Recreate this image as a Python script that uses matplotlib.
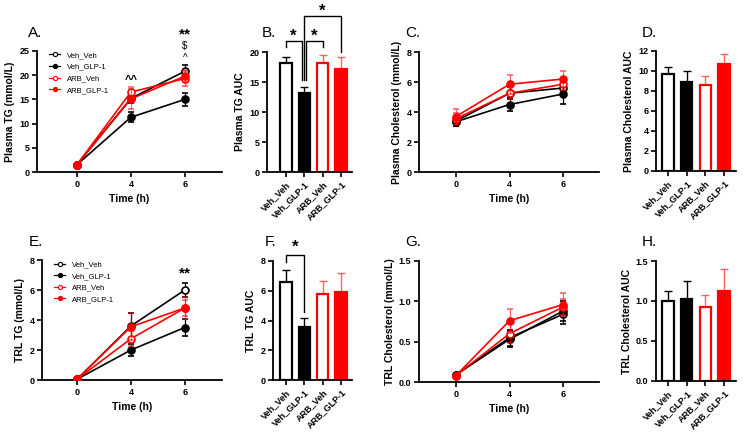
import matplotlib
matplotlib.use("Agg")
import matplotlib.pyplot as plt
from matplotlib.lines import Line2D
import numpy as np

plt.rcParams['font.family'] = ['Liberation Sans', 'DejaVu Sans']

groups = ['Veh_Veh', 'Veh_GLP-1', 'ARB_Veh', 'ARB_GLP-1']
times = ['0', '4', '6']

# time course data (mean, sem)
tg_mean = [[1.5, 15.2, 20.8], [1.5, 11.3, 15.0], [1.5, 16.5, 19.3], [1.5, 15.1, 19.8]]
tg_err = [[0.2, 1.0, 1.3], [0.2, 1.0, 1.3], [0.2, 1.0, 1.5], [0.2, 2.0, 1.3]]
chol_mean = [[3.4, 5.25, 5.6], [3.35, 4.5, 5.2], [3.55, 5.25, 5.85], [3.7, 5.85, 6.2]]
chol_err = [[0.3, 0.4, 0.4], [0.3, 0.45, 0.65], [0.4, 0.4, 0.4], [0.5, 0.65, 0.55]]
trltg_mean = [[0.05, 3.6, 6.0], [0.05, 2.0, 3.5], [0.05, 2.75, 4.8], [0.05, 3.55, 4.8]]
trltg_err = [[0.02, 0.85, 0.45], [0.02, 0.4, 0.55], [0.02, 0.5, 0.55], [0.02, 0.9, 0.75]]
trlchol_mean = [[0.09, 0.55, 0.84], [0.09, 0.53, 0.88], [0.08, 0.6, 0.93], [0.08, 0.76, 0.96]]
trlchol_err = [[0.01, 0.1, 0.12], [0.01, 0.1, 0.12], [0.01, 0.12, 0.1], [0.01, 0.15, 0.14]]

# AUC data
tg_auc = [18.1, 13.1, 18.2, 17.2]
tg_auc_err = [1.1, 1.1, 1.3, 1.9]
chol_auc = [9.7, 8.9, 8.6, 10.7]
chol_auc_err = [0.75, 1.05, 0.9, 1.05]
trltg_auc = [6.6, 3.55, 5.8, 5.9]
trltg_auc_err = [0.8, 0.65, 0.85, 1.3]
trlchol_auc = [1.0, 1.03, 0.92, 1.13]
trlchol_auc_err = [0.13, 0.22, 0.15, 0.27]

line_col = ['black', 'black', 'red', 'red']
face_col = ['white', 'black', 'white', 'red']
err_col = ['black', 'black', (1, 0, 0, 0.6), (1, 0, 0, 0.6)]

W, H = 748, 433
fig = plt.figure(figsize=(7.48, 4.33), dpi=100)


def add_ax(l, r, t, b):
    return fig.add_axes([l / W, (H - b) / H, (r - l) / W, (b - t) / H])


def style(ax):
    for s in ['top', 'right']:
        ax.spines[s].set_visible(False)
    for s in ['left', 'bottom']:
        ax.spines[s].set_linewidth(1.3)
    ax.tick_params(width=1.2, length=3.5, labelsize=6.5, pad=2)
    for lab in ax.get_xticklabels() + ax.get_yticklabels():
        lab.set_fontweight('bold')


def line_panel(ax, means, errs, ylim, yticks, ylabel, xlim, legend=False):
    x = np.arange(len(times))
    for i, g in enumerate(groups):
        ax.errorbar(x, means[i], yerr=errs[i], color=line_col[i], ecolor=err_col[i],
                    marker='o', markersize=5, mfc=face_col[i], mec=line_col[i],
                    mew=1.2, lw=1.2, capsize=2.5, elinewidth=0.9, capthick=0.9,
                    zorder=3 + i)
    ax.set_xticks(x)
    ax.set_xticklabels(times)
    ax.set_xlim(*xlim)
    ax.set_ylim(*ylim)
    ax.set_yticks(yticks)
    ax.set_xlabel('Time (h)', fontsize=7.5, fontweight='bold', labelpad=4)
    ax.set_ylabel(ylabel, fontsize=7.5, fontweight='bold', labelpad=3)
    style(ax)
    if legend:
        handles = [Line2D([], [], color=line_col[i], marker='o', markersize=3,
                          mfc=face_col[i], mec=line_col[i], mew=0.8, lw=0.9)
                   for i in range(len(groups))]
        ax.legend(handles, groups, loc='upper left', bbox_to_anchor=(0.03, 1.05),
                  frameon=False, fontsize=5.5, handlelength=1.4, handletextpad=0.9,
                  labelspacing=0.55)


def bar_panel(ax, vals, errs, ylim, yticks, ylabel, xlim, yfmt=None):
    x = np.arange(len(groups))
    for i in range(len(groups)):
        ax.bar(x[i], vals[i], width=0.62, color=face_col[i], edgecolor=line_col[i],
               linewidth=1.6, zorder=2)
        ax.errorbar(x[i], vals[i], yerr=[[0], [errs[i]]], color=err_col[i],
                    capsize=3, elinewidth=1.0, capthick=1.0, zorder=1)
    ax.set_xticks(x)
    ax.set_xticklabels(groups, rotation=45, ha='right', rotation_mode='anchor')
    ax.set_xlim(*xlim)
    ax.set_ylim(*ylim)
    ax.set_yticks(yticks)
    if yfmt:
        ax.set_yticklabels([yfmt % v for v in yticks])
    ax.set_ylabel(ylabel, fontsize=7.5, fontweight='bold', labelpad=3)
    style(ax)


def letter(s, px, py):
    fig.text(px / W, 1 - py / H, s, fontsize=11, ha='left', va='center')


def bracket(ax, x1, x2, y, y1, y2):
    ax.plot([x1, x1, x2, x2], [y1, y, y, y2], color='black', lw=1.0, clip_on=False)


def star(ax, x, y, s='*', size=12):
    ax.text(x, y, s, fontsize=size, ha='center', va='center', fontweight='bold',
            clip_on=False)


# A
axA = add_ax(37, 222, 51, 172)
line_panel(axA, tg_mean, tg_err, (0, 25), range(0, 26, 5), 'Plasma TG (mmol/L)',
           (-0.74, 2.69), legend=True)
axA.text(1, 19.0, '^^', fontsize=8, ha='center', va='center', fontweight='bold')
star(axA, 2, 28.5, '**', 11)
axA.text(2, 26.0, '$', fontsize=7, ha='center', va='center', clip_on=False)
axA.text(2, 23.6, '^', fontsize=7, ha='center', va='center', clip_on=False)
letter('A.', 28, 33)

# B
axB = add_ax(267, 352, 52, 172)
bar_panel(axB, tg_auc, tg_auc_err, (0, 20), range(0, 21, 5), 'Plasma TG AUC', (-1.03, 3.6))
bracket(axB, 0, 0.85, 21.8, 20.8, 15.3)
bracket(axB, 1.1, 2.0, 21.8, 15.3, 20.8)
bracket(axB, 0.97, 3.0, 26.0, 15.3, 20.0)
star(axB, 0.42, 22.6)
star(axB, 1.55, 22.6)
star(axB, 2.0, 26.8)
letter('B.', 262, 33)

# C
axC = add_ax(419, 599, 52, 172)
line_panel(axC, chol_mean, chol_err, (0, 8), range(0, 9, 2), 'Plasma Cholesterol (mmol/L)',
           (-0.69, 2.67))
letter('C.', 405, 33)

# D
axD = add_ax(656, 736, 51, 171)
bar_panel(axD, chol_auc, chol_auc_err, (0, 12), range(0, 13, 2), 'Plasma Cholesterol AUC',
          (-0.64, 3.64))
letter('D.', 642, 33)

# E
axE = add_ax(42, 222, 260, 380)
line_panel(axE, trltg_mean, trltg_err, (0, 8), range(0, 9, 2), 'TRL TG (mmol/L)',
           (-0.65, 2.69), legend=True)
star(axE, 2, 7.1, '**', 11)
letter('E.', 29, 242)

# F
axF = add_ax(273, 352, 261, 380)
bar_panel(axF, trltg_auc, trltg_auc_err, (0, 8), range(0, 9, 2), 'TRL TG AUC', (-0.7, 3.6))
bracket(axF, 0, 1.0, 8.4, 7.9, 4.6)
star(axF, 0.5, 8.9)
letter('F.', 265, 242)

# G
axG = add_ax(419, 599, 261, 382)
line_panel(axG, trlchol_mean, trlchol_err, (0, 1.5), [0, 0.5, 1.0, 1.5],
           'TRL Cholesterol (mmol/L)', (-0.69, 2.67))
axG.set_yticklabels(['0.0', '0.5', '1.0', '1.5'], fontweight='bold')
letter('G.', 405, 242)

# H
axH = add_ax(656, 736, 261, 381)
bar_panel(axH, trlchol_auc, trlchol_auc_err, (0, 1.5), [0, 0.5, 1.0, 1.5],
          'TRL Cholesterol AUC', (-0.64, 3.64), yfmt='%.1f')
letter('H.', 642, 242)

fig.savefig('out.png', dpi=100)
